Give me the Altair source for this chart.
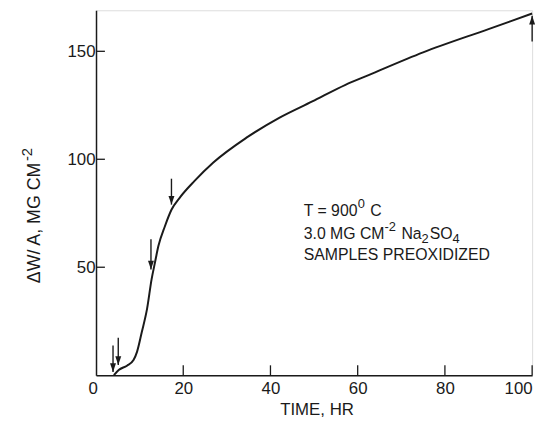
import altair as alt
import pandas as pd

# ---- data ----
time_hr = [4.1, 5.2, 7.1, 8.6, 9.4, 10.5, 11.7, 12.75, 13.5, 14.3, 15.8, 17.3,
           19.3, 22.6, 26.9, 34.5, 42, 49.6, 57.2, 62.5, 75, 90, 100]
weight_gain = [0, 2.4, 4.4, 7, 10.8, 20, 30.7, 44.5, 52, 59.8, 69, 76.6,
               82.5, 90, 98.5, 110, 119.2, 126.8, 134.5, 139, 149.5, 160.3, 167.5]

down_arrow_x = [3.9, 5.1, 12.6, 17.3]
down_arrow_tail = [13.7, 17.4, 63, 91]
down_arrow_tip = [1.5, 4.7, 49, 79]

up_arrow_x = [100]
up_arrow_tail = [154.6]
up_arrow_tip = [166.5]

x_ticks = [0, 20, 40, 60, 80, 100]
y_ticks = [50, 100, 150]

x_title = "TIME, HR"
y_title_main = "\u0394W/ A, MG CM"
y_title_sup = "-2"

# annotation, split into (text, kind) pieces: kind n = normal, sup = superscript, sub = subscript
note_line1 = [("T = 900", "n"), ("0", "sup"), (" C", "n")]
note_line2 = [("3.0 MG CM", "n"), ("-2", "sup"), (" Na", "n"), ("2", "sub"), ("SO", "n"), ("4", "sub")]
note_line3 = [("SAMPLES PREOXIDIZED", "n")]

FONT = "Liberation Sans, Arial, sans-serif"
INK = "#1a1a1a"
W, H = 441, 369

# Liberation Sans advance widths (em) for the characters used in the text
ADV = {" ": .278, ".": .278, ",": .278, "/": .278, "=": .584, "-": .333, "T": .611,
       "C": .722, "M": .833, "G": .778, "N": .722, "a": .556, "S": .667, "O": .778,
       "W": .944, "A": .667, "\u0394": .668}


def text_width(s, size):
    return sum(ADV.get(ch, .556) for ch in s) * size


curve_df = pd.DataFrame({"t": time_hr, "w": weight_gain})
down_df = pd.DataFrame({"t": down_arrow_x, "tail": down_arrow_tail, "tip": down_arrow_tip})
up_df = pd.DataFrame({"t": up_arrow_x, "tail": up_arrow_tail, "tip": up_arrow_tip})
xt_df = pd.DataFrame({"t": x_ticks[1:]})
yt_df = pd.DataFrame({"w": y_ticks})

xscale = alt.Scale(domain=[0, 100], nice=False, zero=False)
yscale = alt.Scale(domain=[0, 169], nice=False, zero=False)

xaxis = alt.Axis(values=x_ticks, tickSize=0, grid=False, labelPadding=6,
                 labelFont=FONT, labelFontSize=17, labelColor=INK,
                 labelOffset={"condition": {"test": "datum.value === 0", "value": -8}, "value": 0},
                 domainColor=INK, domainWidth=1.5,
                 title=x_title, titleFont=FONT, titleFontSize=17,
                 titleFontWeight="normal", titleColor=INK,
                 titleX=223, titleY=35, titleBaseline="middle", titleAlign="center")
yaxis = alt.Axis(values=y_ticks, tickSize=0, grid=False, labelPadding=1,
                 labelFont=FONT, labelFontSize=17, labelColor=INK,
                 domainColor=INK, domainWidth=1.5, title="")

curve = alt.Chart(curve_df).mark_line(color=INK, strokeWidth=2, interpolate="monotone").encode(
    x=alt.X("t:Q", scale=xscale, axis=xaxis),
    y=alt.Y("w:Q", scale=yscale, axis=yaxis),
)

xticks = alt.Chart(xt_df).mark_rule(color=INK, strokeWidth=1.3).encode(
    x=alt.X("t:Q", scale=xscale), y=alt.value(H), y2=alt.value(H - 10))
yticks = alt.Chart(yt_df).mark_rule(color=INK, strokeWidth=1.3).encode(
    y=alt.Y("w:Q", scale=yscale), x=alt.value(0), x2=alt.value(9))

down_shaft = alt.Chart(down_df).mark_rule(color=INK, strokeWidth=1.4).encode(
    x=alt.X("t:Q", scale=xscale), y=alt.Y("tail:Q", scale=yscale), y2="tip:Q")
down_head = alt.Chart(down_df).mark_point(
    shape="M-0.75,-2.2L0.75,-2.2L0,0Z", filled=True, color=INK, opacity=1, size=64).encode(
    x=alt.X("t:Q", scale=xscale), y=alt.Y("tip:Q", scale=yscale))

up_shaft = alt.Chart(up_df).mark_rule(color=INK, strokeWidth=1.4).encode(
    x=alt.X("t:Q", scale=xscale), y=alt.Y("tail:Q", scale=yscale), y2="tip:Q")
up_head = alt.Chart(up_df).mark_point(
    shape="M-0.75,2.2L0.75,2.2L0,0Z", filled=True, color=INK, opacity=1, size=64).encode(
    x=alt.X("t:Q", scale=xscale), y=alt.Y("tip:Q", scale=yscale))

# y-axis title drawn as rotated text so the superscript can be full size
YT_X, YT_Y = -62, 215
yt_main_w = text_width(y_title_main, 18)
y_title_layers = [
    alt.Chart(pd.DataFrame({"txt": [y_title_main]})).mark_text(
        font=FONT, fontSize=18, color=INK, align="center", baseline="middle", angle=270).encode(
        x=alt.value(YT_X), y=alt.value(YT_Y), text="txt:N"),
    alt.Chart(pd.DataFrame({"txt": [y_title_sup]})).mark_text(
        font=FONT, fontSize=15, color=INK, align="left", baseline="middle", angle=270).encode(
        x=alt.value(YT_X - 8), y=alt.value(YT_Y - yt_main_w / 2 - 1), text="txt:N"),
]

# annotation layout (pixel positions inside the plot area)
NOTE_X = 210
NOTE_ROWS = [203, 226, 248]
MAIN, SMALL = 16, 13
SHIFT = {"n": 0, "sup": -7, "sub": 5}

note_layers = []
for pieces, row in zip([note_line1, note_line2, note_line3], NOTE_ROWS):
    cx = NOTE_X
    for txt, kind in pieces:
        size = MAIN if kind == "n" else SMALL
        body = txt.lstrip(" ")
        cx += text_width(txt[:len(txt) - len(body)], size)  # SVG drops leading spaces
        note_layers.append(
            alt.Chart(pd.DataFrame({"txt": [body]})).mark_text(
                font=FONT, fontSize=size, color=INK, align="left", baseline="middle").encode(
                x=alt.value(cx), y=alt.value(row + SHIFT[kind]), text="txt:N")
        )
        cx += text_width(body, size) + (1 if kind != "n" else 0)

chart = alt.layer(curve, xticks, yticks, down_shaft, down_head, up_shaft, up_head,
                  *y_title_layers, *note_layers).properties(
    width=W, height=H,
    autosize=alt.AutoSizeParams(type="none"),
    padding={"left": 89, "top": 0, "right": 12, "bottom": 44},
).configure_view(stroke=None).configure(background="white")

chart.save("out.html", embed_options={"renderer": "svg", "actions": False})
